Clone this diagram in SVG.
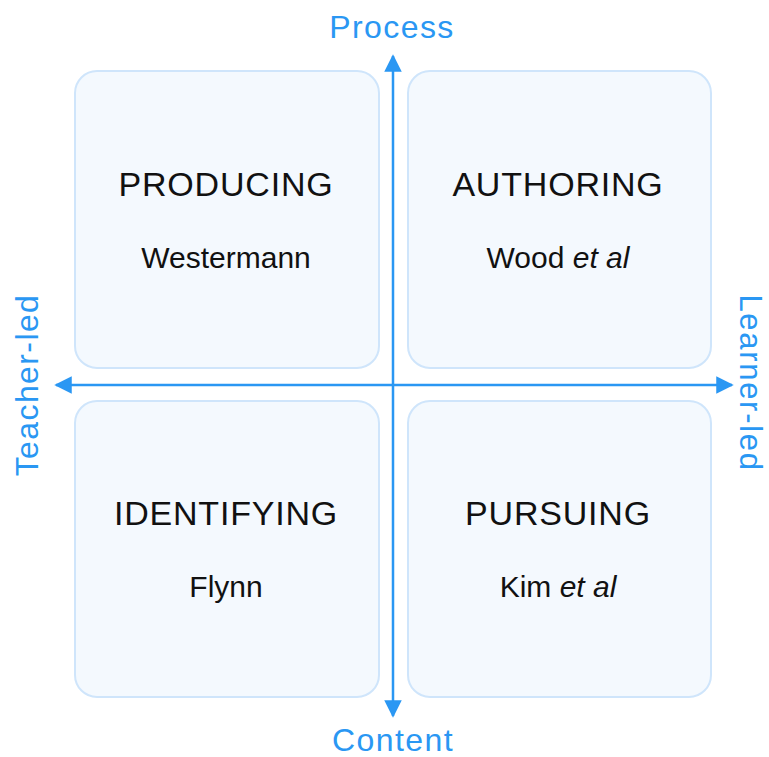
<svg xmlns="http://www.w3.org/2000/svg" width="769" height="757" viewBox="0 0 769 757">
<style>
.box{fill:#f4f9fe;stroke:#cfe5fb;stroke-width:2}
.title{font-family:"Liberation Sans",Arial,sans-serif;font-size:34px;letter-spacing:0.8px;fill:#111;text-anchor:middle}
.sub{font-family:"Liberation Sans",Arial,sans-serif;font-size:30px;fill:#111;text-anchor:middle}
.axis{font-family:"Liberation Sans",Arial,sans-serif;font-size:32px;letter-spacing:1.4px;fill:#2a97f3;text-anchor:middle}
.ax{stroke:#2a97f3;stroke-width:2.5;fill:none}
</style>
<defs>
<marker id="arr" viewBox="0 0 10 10" refX="9" refY="5" markerWidth="7" markerHeight="7" markerUnits="strokeWidth" orient="auto">
<path d="M0,0 L10,5 L0,10 z" fill="#2a97f3"/>
</marker>
</defs>
<g id="producing">
<rect class="box" x="75" y="71" width="304" height="297" rx="22"/>
<text class="title" x="226" y="196">PRODUCING</text>
<text class="sub" x="226" y="268">Westermann</text>
</g>
<g id="authoring">
<rect class="box" x="408" y="71" width="303" height="297" rx="22"/>
<text class="title" x="558" y="196">AUTHORING</text>
<text class="sub" x="558" y="268">Wood <tspan font-style="italic">et al</tspan></text>
</g>
<g id="identifying">
<rect class="box" x="75" y="401" width="304" height="296" rx="22"/>
<text class="title" x="226" y="525">IDENTIFYING</text>
<text class="sub" x="226" y="597">Flynn</text>
</g>
<g id="pursuing">
<rect class="box" x="408" y="401" width="303" height="296" rx="22"/>
<text class="title" x="558" y="525">PURSUING</text>
<text class="sub" x="558" y="597">Kim <tspan font-style="italic">et al</tspan></text>
</g>
<g id="connectors">
<line class="ax" x1="393" y1="385" x2="393" y2="56" marker-end="url(#arr)"/>
<line class="ax" x1="393" y1="385" x2="393" y2="716" marker-end="url(#arr)"/>
<line class="ax" x1="393" y1="385" x2="56" y2="385" marker-end="url(#arr)"/>
<line class="ax" x1="393" y1="385" x2="732" y2="385" marker-end="url(#arr)"/>
</g>
<g id="labels">
<text class="axis" x="392" y="38">Process</text>
<text class="axis" x="393" y="751">Content</text>
<text class="axis" transform="translate(38,385) rotate(-90)">Teacher-led</text>
<text class="axis" style="font-size:31px;letter-spacing:1.7px" transform="translate(740,383) rotate(90)">Learner-led</text>
</g>
</svg>
